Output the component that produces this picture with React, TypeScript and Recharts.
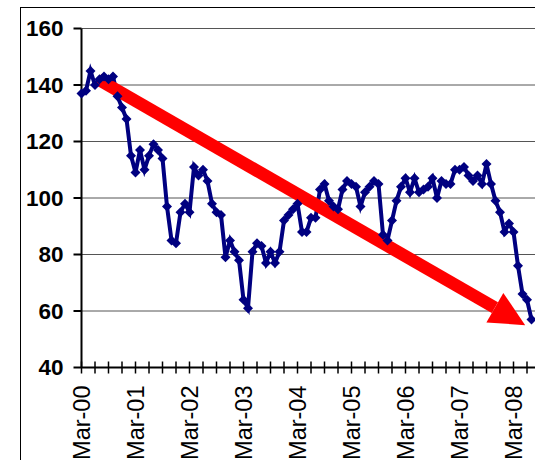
import React from 'react'
import { LineChart, Line, XAxis, YAxis, CartesianGrid, ReferenceLine } from 'recharts'

// monthly readings, Mar-00 .. Jul-08
const values = [
  137, 138, 145, 140, 142, 143, 142, 143, 136, 132, 128, 115,
  109, 117, 110, 115, 119, 117, 114, 97, 85, 84, 95, 98,
  95, 111, 108, 110, 106, 98, 95, 94, 79, 85, 81, 78,
  64, 61, 81, 84, 83, 77, 81, 77, 81, 92, 94, 96,
  98, 88, 88, 93, 93, 103, 105, 99, 97, 96, 103, 106,
  105, 104, 97, 102, 104, 106, 105, 87, 85, 92, 99, 104,
  107, 102, 107, 102, 103, 104, 107, 100, 106, 105, 105, 110,
  110, 111, 108, 106, 108, 105, 112, 105, 99, 95, 88, 91,
  88, 76, 66, 64, 57,
]

const yearLabels = ['Mar-00', 'Mar-01', 'Mar-02', 'Mar-03', 'Mar-04', 'Mar-05', 'Mar-06', 'Mar-07', 'Mar-08']
const xTicks = [0, 3, 6, 9, 12, 15, 18, 21, 24, 27, 30, 33, 36, 39, 42, 45, 48, 51, 54, 57, 60, 63, 66, 69, 72, 75, 78, 81, 84, 87, 90, 93, 96, 99]
const yTicks = [40, 60, 80, 100, 120, 140, 160]

// trend arrow, in data units
const trendStart = { x: 3.7, y: 142 }
const trendEnd = { x: 98.6, y: 55 }

const NAVY = '#000080'

const data = values.map((v, i) => ({ m: i, v }))

function Diamond(props: any) {
  const { cx, cy } = props
  if (cx == null || cy == null) return <g />
  const r = 5
  return <polygon points={`${cx},${cy - r} ${cx + r},${cy} ${cx},${cy + r} ${cx - r},${cy}`} fill={NAVY} />
}

function XTick({ x, y, payload }: any) {
  const m = payload.value
  const label = m % 12 === 0 ? yearLabels[m / 12] : ''
  const ty = y + 18
  return (
    <g>
      <line x1={x} y1={y - 6} x2={x} y2={y + 6} stroke="#000" strokeWidth={1.5} />
      {label && (
        <text x={x} y={ty} transform={`rotate(-90 ${x} ${ty})`} textAnchor="end"
          dominantBaseline="central" fontSize={23.5} fill="#000">
          {label}
        </text>
      )}
    </g>
  )
}

function Arrow(props: any) {
  const { x1, y1, x2, y2 } = props
  if (![x1, y1, x2, y2].every(n => typeof n === 'number')) return <g />
  const dx = x2 - x1, dy = y2 - y1
  const len = Math.hypot(dx, dy)
  const ux = dx / len, uy = dy / len
  const nx = -uy, ny = ux
  const head = 35, hw = 17, sw = 6.25
  const bx = x2 - ux * head, by = y2 - uy * head
  const shaft = [
    [x1 + nx * sw, y1 + ny * sw], [bx + nx * sw, by + ny * sw],
    [bx - nx * sw, by - ny * sw], [x1 - nx * sw, y1 - ny * sw],
  ].map(p => p.join(',')).join(' ')
  const tip = [
    [x2, y2], [bx + nx * hw, by + ny * hw], [bx - nx * hw, by - ny * hw],
  ].map(p => p.join(',')).join(' ')
  return (
    <g>
      <polygon points={shaft} fill="#ff0000" />
      <polygon points={tip} fill="#ff0000" />
    </g>
  )
}

export default function App() {
  return (
    <div style={{
      position: 'fixed', left: 0, top: 0, width: 535, height: 460, overflow: 'hidden',
      background: '#fff', fontFamily: '"Liberation Sans", Arial, sans-serif',
    }}>
      <div style={{ position: 'absolute', left: 20, top: 7, width: 700, height: 600, border: '1px solid #000' }} />
      <div style={{ position: 'absolute', left: 0, top: 0 }}>
        <LineChart width={600} height={470} data={data}
          margin={{ top: 28.5, right: 64, bottom: 7.5, left: 0 }}>
          <CartesianGrid vertical={false} stroke="#555" />
          <XAxis dataKey="m" type="number" domain={[0, 101]} ticks={xTicks} interval={0}
            tick={<XTick />} tickLine={false} tickSize={0} tickMargin={0} height={95}
            axisLine={{ stroke: '#000', strokeWidth: 2 }} allowDecimals={false} />
          <YAxis domain={[40, 160]} ticks={yTicks} interval={0} width={81.5}
            tick={{ fontSize: 22.5, fontWeight: 'bold', fill: '#000' }}
            tickSize={8} tickMargin={10}
            tickLine={{ stroke: '#000', strokeWidth: 2 }}
            axisLine={{ stroke: '#000', strokeWidth: 2 }} />
          <Line dataKey="v" type="linear" stroke={NAVY} strokeWidth={4}
            dot={<Diamond />} activeDot={false} isAnimationActive={false} />
          <ReferenceLine segment={[trendStart, trendEnd]} shape={Arrow} ifOverflow="visible" />
        </LineChart>
      </div>
    </div>
  )
}
